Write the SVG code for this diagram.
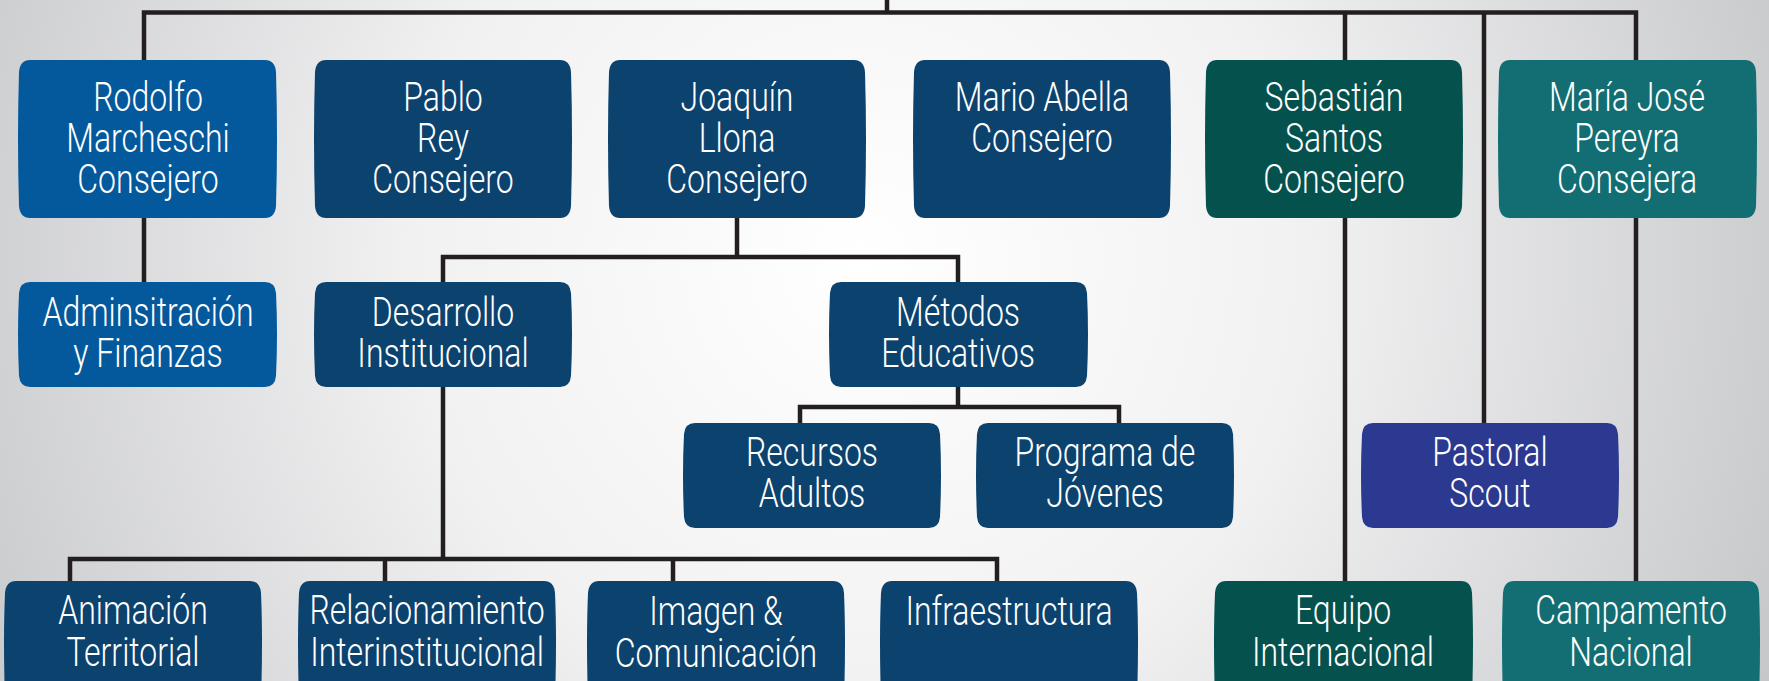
<svg xmlns="http://www.w3.org/2000/svg" width="1769" height="681" viewBox="0 0 1769 681">
<defs>
<radialGradient id="bg" cx="860" cy="260" r="1000" gradientUnits="userSpaceOnUse">
<stop offset="0" stop-color="#ffffff"/>
<stop offset="0.45" stop-color="#f1f1f2"/>
<stop offset="1" stop-color="#c6c7c9"/>
</radialGradient>
</defs>
<style>
.ln{fill:none;stroke:#231f20;stroke-width:4.5;stroke-linejoin:miter;stroke-linecap:butt}
.c1{fill:#04599c}
.c2{fill:#0b426e}
.c3{fill:#04514e}
.c4{fill:#126e73}
.c5{fill:#2b3990}
.t{fill:#ffffff;font-family:Roboto,"Liberation Sans",Arial,sans-serif;font-weight:300;font-size:40px;text-anchor:middle}
</style>
<rect width="1769" height="681" fill="url(#bg)"/>
<g id="connectors">
<path class="ln" d="M144,282 V12.5 H1636 V581"/>
<path class="ln" d="M887,0 V12.5"/>
<path class="ln" d="M1345,12.5 V581"/>
<path class="ln" d="M1484,12.5 V423"/>
<path class="ln" d="M737,218 V257"/>
<path class="ln" d="M443,282 V257 H958 V282"/>
<path class="ln" d="M443,387 V559"/>
<path class="ln" d="M958,387 V407"/>
<path class="ln" d="M800,423 V407 H1119 V423"/>
<path class="ln" d="M70,581 V559 H997 V581"/>
<path class="ln" d="M385,559 V581"/>
<path class="ln" d="M673,559 V581"/>
</g>
<g id="rodolfo">
<path class="c1" d="M30,60 H265 Q275,60 276,72 Q278,139 276,206 Q275,218 265,218 H30 Q20,218 19,206 Q17,139 19,72 Q20,60 30,60 Z"/>
<text class="t" transform="translate(148,111) scale(0.8,1)">Rodolfo</text>
<text class="t" transform="translate(148,152) scale(0.8,1)">Marcheschi</text>
<text class="t" transform="translate(148,193) scale(0.8,1)">Consejero</text>
</g>
<g id="pablo">
<path class="c2" d="M326,60 H560 Q570,60 571,72 Q573,139 571,206 Q570,218 560,218 H326 Q316,218 315,206 Q313,139 315,72 Q316,60 326,60 Z"/>
<text class="t" transform="translate(443,111) scale(0.8,1)">Pablo</text>
<text class="t" transform="translate(443,152) scale(0.8,1)">Rey</text>
<text class="t" transform="translate(443,193) scale(0.8,1)">Consejero</text>
</g>
<g id="joaquin">
<path class="c2" d="M620,60 H854 Q864,60 865,72 Q867,139 865,206 Q864,218 854,218 H620 Q610,218 609,206 Q607,139 609,72 Q610,60 620,60 Z"/>
<text class="t" transform="translate(737,111) scale(0.8,1)">Joaquín</text>
<text class="t" transform="translate(737,152) scale(0.8,1)">Llona</text>
<text class="t" transform="translate(737,193) scale(0.8,1)">Consejero</text>
</g>
<g id="mario">
<path class="c2" d="M925,60 H1159 Q1169,60 1170,72 Q1172,139 1170,206 Q1169,218 1159,218 H925 Q915,218 914,206 Q912,139 914,72 Q915,60 925,60 Z"/>
<text class="t" transform="translate(1042,111) scale(0.8,1)">Mario Abella</text>
<text class="t" transform="translate(1042,152) scale(0.8,1)">Consejero</text>
</g>
<g id="sebastian">
<path class="c3" d="M1217,60 H1451 Q1461,60 1462,72 Q1464,139 1462,206 Q1461,218 1451,218 H1217 Q1207,218 1206,206 Q1204,139 1206,72 Q1207,60 1217,60 Z"/>
<text class="t" transform="translate(1334,111) scale(0.8,1)">Sebastián</text>
<text class="t" transform="translate(1334,152) scale(0.8,1)">Santos</text>
<text class="t" transform="translate(1334,193) scale(0.8,1)">Consejero</text>
</g>
<g id="maria-jose">
<path class="c4" d="M1510,60 H1745 Q1755,60 1756,72 Q1758,139 1756,206 Q1755,218 1745,218 H1510 Q1500,218 1499,206 Q1497,139 1499,72 Q1500,60 1510,60 Z"/>
<text class="t" transform="translate(1627,111) scale(0.8,1)">María José</text>
<text class="t" transform="translate(1627,152) scale(0.8,1)">Pereyra</text>
<text class="t" transform="translate(1627,193) scale(0.8,1)">Consejera</text>
</g>
<g id="administracion">
<path class="c1" d="M30,282 H265 Q275,282 276,293 Q278,334 276,376 Q275,387 265,387 H30 Q20,387 19,376 Q17,334 19,293 Q20,282 30,282 Z"/>
<text class="t" transform="translate(148,326) scale(0.8,1)">Adminsitración</text>
<text class="t" transform="translate(148,367) scale(0.8,1)">y Finanzas</text>
</g>
<g id="desarrollo">
<path class="c2" d="M326,282 H560 Q570,282 571,293 Q573,334 571,376 Q570,387 560,387 H326 Q316,387 315,376 Q313,334 315,293 Q316,282 326,282 Z"/>
<text class="t" transform="translate(443,326) scale(0.8,1)">Desarrollo</text>
<text class="t" transform="translate(443,367) scale(0.8,1)">Institucional</text>
</g>
<g id="metodos">
<path class="c2" d="M841,282 H1076 Q1086,282 1087,293 Q1089,334 1087,376 Q1086,387 1076,387 H841 Q831,387 830,376 Q828,334 830,293 Q831,282 841,282 Z"/>
<text class="t" transform="translate(958,326) scale(0.8,1)">Métodos</text>
<text class="t" transform="translate(958,367) scale(0.8,1)">Educativos</text>
</g>
<g id="recursos">
<path class="c2" d="M695,423 H929 Q939,423 940,434 Q942,475 940,517 Q939,528 929,528 H695 Q685,528 684,517 Q682,475 684,434 Q685,423 695,423 Z"/>
<text class="t" transform="translate(812,466) scale(0.8,1)">Recursos</text>
<text class="t" transform="translate(812,507) scale(0.8,1)">Adultos</text>
</g>
<g id="programa">
<path class="c2" d="M988,423 H1222 Q1232,423 1233,434 Q1235,475 1233,517 Q1232,528 1222,528 H988 Q978,528 977,517 Q975,475 977,434 Q978,423 988,423 Z"/>
<text class="t" transform="translate(1105,466) scale(0.8,1)">Programa de</text>
<text class="t" transform="translate(1105,507) scale(0.8,1)">Jóvenes</text>
</g>
<g id="pastoral">
<path class="c5" d="M1373,423 H1607 Q1617,423 1618,434 Q1620,475 1618,517 Q1617,528 1607,528 H1373 Q1363,528 1362,517 Q1360,475 1362,434 Q1363,423 1373,423 Z"/>
<text class="t" transform="translate(1490,466) scale(0.8,1)">Pastoral</text>
<text class="t" transform="translate(1490,507) scale(0.8,1)">Scout</text>
</g>
<g id="animacion">
<path class="c2" d="M16,581 H250 Q260,581 261,593 Q263,640 261,700 H5 Q3,640 5,593 Q6,581 16,581 Z"/>
<text class="t" transform="translate(133,624) scale(0.8,1)">Animación</text>
<text class="t" transform="translate(133,666) scale(0.8,1)">Territorial</text>
</g>
<g id="relacionamiento">
<path class="c2" d="M310,581 H544 Q554,581 555,593 Q557,640 555,700 H299 Q297,640 299,593 Q300,581 310,581 Z"/>
<text class="t" transform="translate(427,624) scale(0.8,1)">Relacionamiento</text>
<text class="t" transform="translate(427,666) scale(0.8,1)">Interinstitucional</text>
</g>
<g id="imagen">
<path class="c2" d="M599,581 H833 Q843,581 844,593 Q846,640 844,700 H588 Q586,640 588,593 Q589,581 599,581 Z"/>
<text class="t" transform="translate(716,625) scale(0.8,1)">Imagen &amp;</text>
<text class="t" transform="translate(716,667) scale(0.8,1)">Comunicación</text>
</g>
<g id="infraestructura">
<path class="c2" d="M892,581 H1126 Q1136,581 1137,593 Q1139,640 1137,700 H881 Q879,640 881,593 Q882,581 892,581 Z"/>
<text class="t" transform="translate(1009,625) scale(0.8,1)">Infraestructura</text>
</g>
<g id="equipo">
<path class="c3" d="M1226,581 H1461 Q1471,581 1472,593 Q1474,640 1472,700 H1215 Q1213,640 1215,593 Q1216,581 1226,581 Z"/>
<text class="t" transform="translate(1343,624) scale(0.8,1)">Equipo</text>
<text class="t" transform="translate(1343,666) scale(0.8,1)">Internacional</text>
</g>
<g id="campamento">
<path class="c4" d="M1514,581 H1748 Q1758,581 1759,593 Q1761,640 1759,700 H1503 Q1501,640 1503,593 Q1504,581 1514,581 Z"/>
<text class="t" transform="translate(1631,624) scale(0.8,1)">Campamento</text>
<text class="t" transform="translate(1631,666) scale(0.8,1)">Nacional</text>
</g>
</svg>
